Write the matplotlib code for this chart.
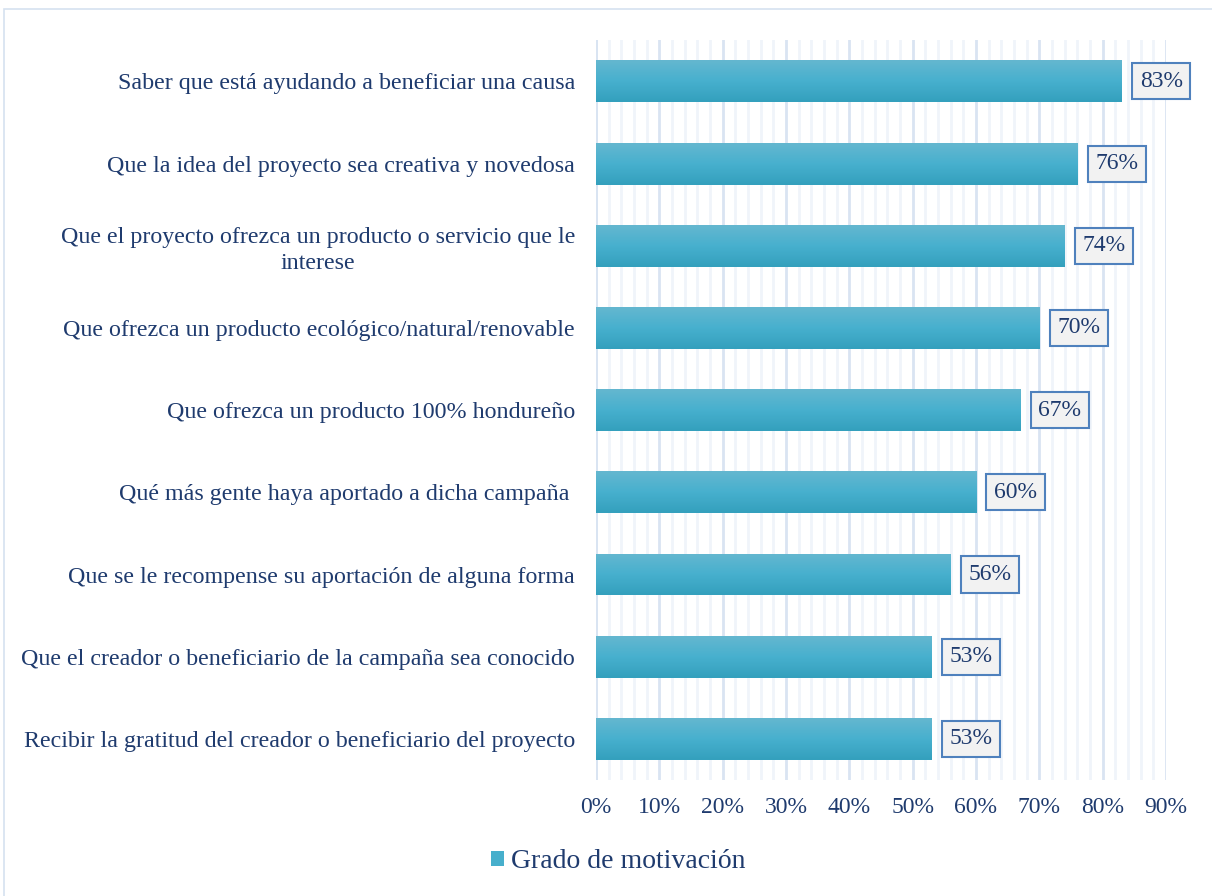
import matplotlib.pyplot as plt
import matplotlib.patches as mpatches
import numpy as np
from matplotlib.ticker import MultipleLocator, PercentFormatter
from matplotlib.colors import LinearSegmentedColormap

categorias = [
    "Saber que está ayudando a beneficiar una causa",
    "Que la idea del proyecto sea creativa y novedosa",
    "Que el proyecto ofrezca un producto o servicio que le\ninterese",
    "Que ofrezca un producto ecológico/natural/renovable",
    "Que ofrezca un producto 100% hondureño",
    "Qué más gente haya aportado a dicha campaña ",
    "Que se le recompense su aportación de alguna forma",
    "Que el creador o beneficiario de la campaña sea conocido",
    "Recibir la gratitud del creador o beneficiario del proyecto",
]
motivacion = [0.83, 0.76, 0.74, 0.70, 0.67, 0.60, 0.56, 0.53, 0.53]
serie = "Grado de motivación"

azul_texto = "#1F3B6E"
plt.rcParams["font.family"] = ["Liberation Serif", "DejaVu Serif"]

fig = plt.figure(figsize=(12.12, 8.96), dpi=100)
ax = fig.add_axes([0.4917, 0.1295, 0.4703, 0.8255])

# marco exterior del gráfico
fig.patches.append(mpatches.Rectangle((0.0035, -0.02), 1.02, 1.01, transform=fig.transFigure,
                                      fill=False, edgecolor="#D6E2F0", linewidth=1.2))

y = np.arange(len(categorias))
bars = ax.barh(y, motivacion, height=0.51, color="#47AFCC", zorder=3, label=serie)

# degradado vertical dentro de cada barra
grad = LinearSegmentedColormap.from_list("g", ["#64B7D0", "#47B0CE", "#34A0BD"])
for b in bars:
    x0, y0 = b.get_x(), b.get_y()
    w, h = b.get_width(), b.get_height()
    im = ax.imshow(np.linspace(0, 1, 50).reshape(-1, 1), cmap=grad, aspect="auto",
                   extent=(x0, x0 + w, y0 + h, y0), zorder=4, interpolation="bilinear")
    im.set_clip_path(b)

for yi, v in zip(y, motivacion):
    ax.annotate(f"{v * 100:.0f}%", (v, yi), xytext=(13, 0), textcoords="offset points",
                ha="left", va="center", fontsize=17, color=azul_texto, zorder=5,
                bbox=dict(boxstyle="square,pad=0.32", facecolor="#F2F2F2",
                          edgecolor="#4F81BD", linewidth=1.5))

ax.set_xlim(0, 0.9)
ax.set_ylim(len(categorias) - 0.5, -0.5)
ax.set_yticks(y)
ax.set_yticklabels(categorias, fontsize=17.25, color=azul_texto, multialignment="center",
                   linespacing=1.3)
ax.xaxis.set_major_locator(MultipleLocator(0.1))
ax.xaxis.set_minor_locator(MultipleLocator(0.02))
ax.xaxis.set_major_formatter(PercentFormatter(1.0, decimals=0))
ax.tick_params(axis="x", labelsize=17, labelcolor=azul_texto, length=0, which="both", pad=12)
ax.tick_params(axis="y", length=0, pad=15)
ax.grid(axis="x", which="major", color="#D9E4F2", linewidth=2.0, zorder=0)
ax.grid(axis="x", which="minor", color="#F0F4FA", linewidth=2.0, zorder=0)
for s in ax.spines.values():
    s.set_visible(False)
ax.axvline(0, color="#D9E4F2", linewidth=2.0, zorder=1)

handle = mpatches.Patch(facecolor="#47AFCC", edgecolor="none")
fig.legend([handle], [serie], loc="center", bbox_to_anchor=(0.51, 0.038), frameon=False,
           fontsize=20, handlelength=0.45, handleheight=0.45, handletextpad=0.25,
           labelcolor=azul_texto)

fig.savefig("out.png", dpi=100, facecolor="white")
